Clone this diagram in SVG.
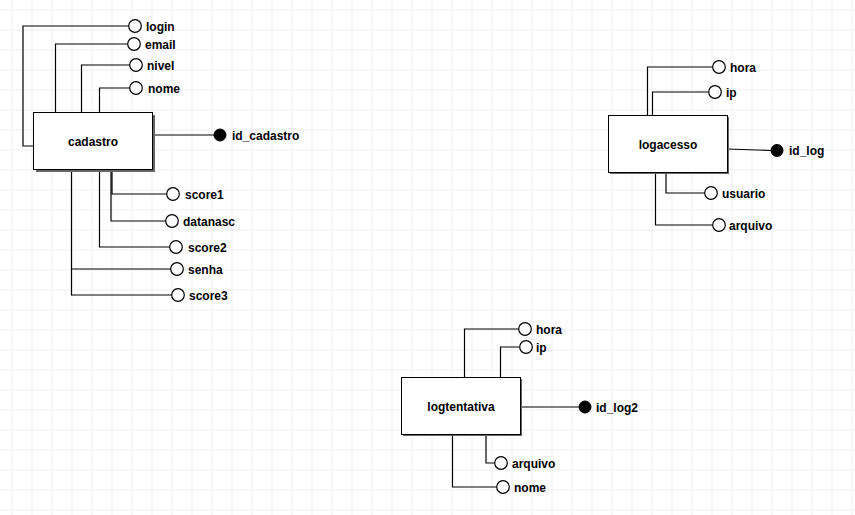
<svg xmlns="http://www.w3.org/2000/svg" width="855" height="515" viewBox="0 0 855 515">
<defs>
<pattern id="grid" x="11.5" y="9.5" width="20" height="20" patternUnits="userSpaceOnUse">
<path d="M0.5 0 V20 M0 0.5 H20" stroke="#eceff4" stroke-width="1" fill="none"/>
</pattern>
</defs>
<style>
.ent{fill:#fff;stroke:#000;stroke-width:1}
.sh{fill:#666}
.ln{fill:none;stroke:#000;stroke-width:1.2}
.at{fill:#fff;stroke:#000;stroke-width:1.2}
.pk{fill:#000;stroke:#000;stroke-width:1}
text{font-family:"Liberation Sans",Arial,sans-serif;font-weight:bold;font-size:12px;fill:#000}
.et{text-anchor:middle}
</style>
<rect width="855" height="515" fill="#fff"/>
<rect width="855" height="515" fill="url(#grid)"/>
<g id="connectors">
<!-- cadastro -->
<polyline class="ln" points="34,146 23,146 23,26 129,26"/>
<polyline class="ln" points="55.5,113 55.5,44 128,44"/>
<polyline class="ln" points="81.5,113 81.5,65 130,65"/>
<polyline class="ln" points="99.5,113 99.5,88 130,88"/>
<line class="ln" x1="152" y1="135" x2="214" y2="135"/>
<polyline class="ln" points="112,169 112,194 167,194"/>
<polyline class="ln" points="111,169 111,221 166,221"/>
<polyline class="ln" points="99.5,169 99.5,247 170,247"/>
<polyline class="ln" points="71.5,169 71.5,269 171,269"/>
<polyline class="ln" points="71.5,269 71.5,295 172,295"/>
<!-- logacesso -->
<polyline class="ln" points="647.5,115 647.5,67 713,67"/>
<polyline class="ln" points="652.5,115 652.5,92 709,92"/>
<line class="ln" x1="727" y1="149" x2="771" y2="150.5"/>
<polyline class="ln" points="666,172 666,193 705,193"/>
<polyline class="ln" points="655.5,172 655.5,225 712.5,225"/>
<!-- logtentativa -->
<polyline class="ln" points="464.5,377 464.5,329 519,329"/>
<polyline class="ln" points="500.5,377 500.5,347 519.5,347"/>
<line class="ln" x1="520" y1="407" x2="579" y2="407"/>
<polyline class="ln" points="486,434 486,463 495,463"/>
<polyline class="ln" points="452.5,434 452.5,487 496.5,487"/>
</g>
<g id="cadastro">
<rect class="sh" x="36" y="115" width="119" height="57"/>
<rect class="ent" x="33.5" y="112.5" width="119" height="57"/>
<text class="et" x="93" y="146">cadastro</text>
</g>
<g id="logacesso">
<rect class="sh" x="610" y="117" width="119" height="57"/>
<rect class="ent" x="608.5" y="115.5" width="119" height="57"/>
<text class="et" x="668" y="149">logacesso</text>
</g>
<g id="logtentativa">
<rect class="sh" x="403" y="379" width="119" height="57"/>
<rect class="ent" x="401.5" y="377.5" width="119" height="57"/>
<text class="et" x="461" y="411">logtentativa</text>
</g>
<g id="attr-login"><circle class="at" cx="135" cy="26" r="6.3"/><text x="146" y="30.5">login</text></g>
<g id="attr-email"><circle class="at" cx="134" cy="44" r="6.3"/><text x="145" y="48.5">email</text></g>
<g id="attr-nivel"><circle class="at" cx="136" cy="65" r="6.3"/><text x="147" y="69.5">nivel</text></g>
<g id="attr-nome"><circle class="at" cx="136" cy="88" r="6.3"/><text x="148" y="92.5">nome</text></g>
<g id="attr-id_cadastro"><circle class="pk" cx="220" cy="135" r="6"/><text x="232" y="139.5">id_cadastro</text></g>
<g id="attr-score1"><circle class="at" cx="173" cy="194" r="6.3"/><text x="185" y="198.5">score1</text></g>
<g id="attr-datanasc"><circle class="at" cx="172" cy="221" r="6.3"/><text x="183" y="225.5">datanasc</text></g>
<g id="attr-score2"><circle class="at" cx="176" cy="247" r="6.3"/><text x="188" y="251.5">score2</text></g>
<g id="attr-senha"><circle class="at" cx="177" cy="269" r="6.3"/><text x="188" y="273.5">senha</text></g>
<g id="attr-score3"><circle class="at" cx="178" cy="295" r="6.3"/><text x="189" y="299.5">score3</text></g>
<g id="attr-hora1"><circle class="at" cx="719" cy="67" r="6.3"/><text x="730" y="71.5">hora</text></g>
<g id="attr-ip1"><circle class="at" cx="715" cy="92" r="6.3"/><text x="726" y="96.5">ip</text></g>
<g id="attr-id_log"><circle class="pk" cx="777" cy="150.5" r="6"/><text x="789" y="155">id_log</text></g>
<g id="attr-usuario"><circle class="at" cx="711" cy="193" r="6.3"/><text x="722" y="197.5">usuario</text></g>
<g id="attr-arquivo1"><circle class="at" cx="719" cy="225" r="6.3"/><text x="729" y="229.5">arquivo</text></g>
<g id="attr-hora2"><circle class="at" cx="525" cy="329" r="6.3"/><text x="536" y="333.5">hora</text></g>
<g id="attr-ip2"><circle class="at" cx="526" cy="347" r="6.3"/><text x="536" y="351.5">ip</text></g>
<g id="attr-id_log2"><circle class="pk" cx="585" cy="407" r="6"/><text x="596" y="411.5">id_log2</text></g>
<g id="attr-arquivo2"><circle class="at" cx="501" cy="463" r="6.3"/><text x="512" y="467.5">arquivo</text></g>
<g id="attr-nome2"><circle class="at" cx="503" cy="487" r="6.3"/><text x="514" y="491.5">nome</text></g>
</svg>
